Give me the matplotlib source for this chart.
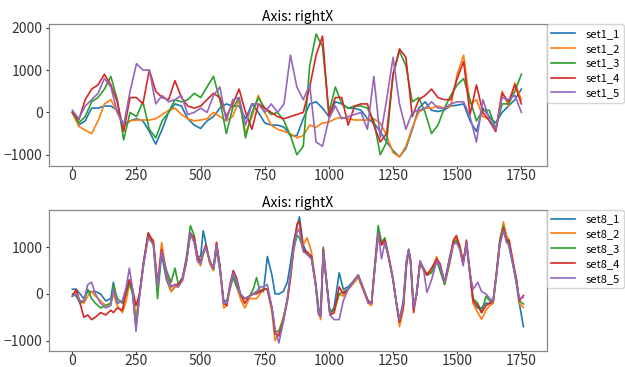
import matplotlib
matplotlib.use("Agg")
import matplotlib.pyplot as plt

plt.rcParams['font.family'] = ['Noto Sans CJK JP', 'DejaVu Sans']
plt.rcParams['axes.unicode_minus'] = True

# ---------------- top panel (set1) ----------------
x1 = list(range(0, 1751, 25))

set1_1 = [0, -300, -200, 100, 100, 150, 150, 50, -300, -200,
          -150, -200, -450, -750, -400, 0, 200, 150, -150, -300,
          -380, -200, -100, 100, 200, 150, 150, -150, 200, 0,
          -250, -300, -300, -350, -550, -550, -150, 200, 250, 100,
          -100, 250, 200, 100, 100, 50, -150, -250, -450, -700,
          -900, -1050, -850, -400, 100, 250, 50, 20, 60, 150,
          170, 200, -200, -450, 100, -100, -250, 0, 150, 300,
          550]
set1_2 = [0, -330, -420, -500, -200, 200, 300, 0, -330, -200,
          -180, -180, -180, -150, -50, 50, 100, -50, -150, -200,
          -180, -150, 0, -100, -200, -100, 300, -500, -100, 400,
          0, -300, -400, -450, -500, -600, -550, -300, -350, -250,
          -230, -150, -120, -150, -180, -180, -180, -150, -250, -550,
          -950, -1050, -800, -350, 0, 100, 100, 150, 100, 150,
          900, 1350, 200, 300, -100, -150, -450, 500, 150, 700,
          300]
set1_3 = [0, -250, -100, 250, 350, 550, 850, 300, -650, 0,
          -100, 250, -400, -600, -200, 0, 300, 250, 300, 450,
          350, 600, 850, 300, -500, 100, 350, -600, 0, 350,
          100, -50, 0, -200, -550, -1000, -800, 1100, 1850, 1550,
          0, 600, 200, 100, 150, 150, 100, -200, -1000, -700,
          900, 1450, 1100, 250, 350, 0, -500, -300, 100, 400,
          650, 800, 300, -200, 50, 50, -400, 200, 200, 500,
          900]
set1_4 = [0, -180, 300, 550, 650, 900, 650, 250, -450, 350,
          350, 200, 1000, 500, 350, 300, 750, 350, 150, 100,
          150, 300, 450, 350, -100, 200, 550, 0, -400, 200,
          100, 0, -100, -150, -100, -50, 0, 600, 1350, 1800,
          -100, 350, 350, -300, 150, 200, 200, -300, -700, -500,
          900, 1500, 1300, -100, 300, 400, 550, 350, 300, 300,
          800, 1200, -50, 650, 0, -200, -450, 450, 250, 650,
          200]
set1_5 = [50, -150, 150, 300, 450, 800, 600, 0, -300, 500,
          1150, 1000, 1000, 200, 400, 250, 300, 400, -50, 0,
          100, 0, 400, 600, -200, 300, 350, -300, 200, 200,
          0, 200, 0, 200, 1350, 600, 300, 650, -700, -800,
          -150, 150, -150, -100, -50, 0, -400, 850, -600, 300,
          1300, 200, -400, 0, 50, 100, 250, 100, 100, 200,
          250, 250, -100, -700, 300, -150, -400, 350, 300, 400,
          0]

# ---------------- bottom panel (set8) ----------------
x8 = [0, 15, 30, 45, 60, 75, 90, 110, 130, 150,
      160, 175, 195, 210, 222, 235, 248, 262, 278, 296,
      316, 332, 348, 367, 385, 400, 413, 430, 445, 460,
      475, 488, 500, 510, 520, 536, 550, 562, 575, 590,
      602, 614, 627, 640, 655, 672, 690, 705, 718, 732,
      745, 760, 778, 790, 805, 822, 838, 850, 862, 876,
      885, 900, 915, 932, 948, 960, 968, 978, 990, 1004,
      1020, 1040, 1056, 1075, 1100, 1114, 1135, 1153, 1166, 1180,
      1192, 1205, 1218, 1232, 1250, 1263, 1275, 1290, 1302, 1311,
      1318, 1330, 1342, 1355, 1368, 1382, 1400, 1420, 1433, 1451,
      1471, 1485, 1497, 1510, 1523, 1536, 1549, 1562, 1580, 1595,
      1612, 1627, 1640, 1653, 1666, 1680, 1692, 1702, 1718, 1731,
      1742, 1758]

set8_1 = [100, 100, 0, -100, 50, 50, 50, 0, -150, -100,
          250, -200, -150, 50, 300, 0, -700, 0, 650, 1300,
          1050, 200, 850, 300, 50, 150, 200, 350, 700, 1300,
          1100, 800, 800, 1350, 1100, 650, 500, 950, 500, -150,
          -150, 100, 350, 150, -50, -100, -50, 0, 50, 50,
          50, 800, 400, 0, 0, 50, 250, 650, 1100, 1450,
          1650, 1050, 850, 750, 250, -300, -450, 900, 250, -400,
          -300, 450, 100, 150, 300, 400, 100, -180, -200, 650,
          1300, 1050, 1100, 800, 300, -200, -550, -150, 700, 950,
          700, -300, 50, 650, 550, 400, 500, 700, 600, 250,
          800, 1100, 1150, 1000, 650, 1050, 450, -200, -300, -300,
          -200, -200, -200, 400, 1050, 1400, 1200, 1000, 600, 200,
          -200, -700]
set8_2 = [-50, 50, -150, -200, -50, 50, -50, -150, -250, -200,
          0, -250, -400, -150, 200, 50, -500, 0, 650, 1250,
          1150, 200, 1100, 400, 50, 150, 150, 300, 700, 1300,
          1150, 700, 600, 850, 1000, 650, 500, 1100, 550, -300,
          -250, 100, 400, 200, -100, -300, -100, -100, -100, 0,
          100, 100, -400, -1000, -800, -500, -150, 300, 900, 1350,
          1400, 1050, 1200, 900, 250, -400, -550, 850, 300, -450,
          -400, 0, -50, 100, 250, 350, 50, -200, -250, 600,
          1250, 1050, 1150, 850, 350, -200, -700, -350, 600, 900,
          750, -250, 0, 700, 500, 450, 500, 800, 550, 200,
          650, 1050, 1200, 1050, 700, 1050, 450, -200, -400, -540,
          -350, -250, -200, 400, 1150, 1540, 1250, 1150, 700, 300,
          -200, -290]
set8_3 = [0, -50, -200, -150, 100, -100, -200, -300, -250, -200,
          200, -100, -200, 0, 250, 0, -700, 0, 700, 1300,
          1050, -100, 900, 500, 250, 550, 200, 350, 800, 1460,
          1250, 750, 650, 850, 1000, 700, 550, 1000, 600, -200,
          -200, 150, 400, 200, 0, -100, -50, 100, 350, 50,
          100, 100, -300, -800, -800, -550, -100, 400, 950, 1250,
          1200, 950, 850, 800, 200, -400, -450, 1000, 300, -400,
          -350, 0, 50, 100, 300, 400, 100, -150, -200, 700,
          1460, 1100, 1200, 800, 300, -200, -600, -250, 600, 950,
          700, -300, 0, 650, 550, 400, 450, 700, 500, 200,
          700, 1100, 1150, 1000, 650, 1100, 500, -100, -200, -400,
          -50, -150, -150, 450, 1150, 1450, 1150, 1100, 650, 300,
          -150, -215]
set8_4 = [-50, 100, -200, -500, -450, -550, -500, -400, -450, -350,
          -400, -300, -350, 50, 300, 100, -250, 0, 700, 1300,
          1100, 200, 950, 450, 150, 200, 200, 350, 750, 1300,
          1200, 800, 700, 900, 1050, 700, 550, 1100, 600, -200,
          -250, 200, 500, 350, 0, -200, -50, 0, 0, 50,
          100, 100, -300, -850, -900, -600, -150, 350, 1000, 1500,
          1550, 950, 900, 800, 200, -450, -450, 950, 300, -450,
          -400, 150, 0, 100, 300, 400, 100, -150, -200, 650,
          1300, 1050, 1150, 800, 300, -200, -600, -250, 650, 950,
          700, -400, 0, 700, 550, 400, 550, 750, 650, 250,
          750, 1150, 1250, 1000, 650, 1150, 500, -150, -250, -400,
          -250, -200, -150, 450, 1100, 1400, 1150, 1150, 650, 300,
          -150, -35]
set8_5 = [-50, 0, -150, -150, 200, 250, 0, -200, -300, -250,
          100, -200, -150, 150, 550, 100, -800, -50, 650, 1200,
          1050, 150, 900, 450, 150, 200, 150, 300, 700, 1300,
          1100, 700, 650, 900, 1000, 700, 550, 1050, 550, -200,
          -200, 150, 450, 300, 0, -100, -50, 0, 50, 150,
          150, 200, -300, -750, -1050, -600, -100, 400, 950, 1350,
          1350, 900, 850, 750, 200, -400, -500, 900, 300, -450,
          -550, -550, -150, 100, 300, 400, 100, -200, -200, 600,
          1300, 750, 1100, 800, 300, -200, -550, -200, 700, 950,
          700, -300, 0, 700, 550, 30, 300, 700, 600, 250,
          750, 1050, 1100, 950, 600, 1100, 450, 100, 250, 50,
          0, -100, -150, 400, 1050, 1350, 1100, 1050, 600, 250,
          -100, -70]

top_labels = ["set1_1", "set1_2", "set1_3", "set1_4", "set1_5"]
bot_labels = ["set8_1", "set8_2", "set8_3", "set8_4", "set8_5"]
title_text = "Axis: rightX"

W, H = 625, 367
fig = plt.figure(figsize=(W / 100, H / 100), dpi=100)
ax1 = fig.add_axes([49 / W, 1 - 166 / H, (546.5 - 49) / W, (166 - 24.3) / H])
ax2 = fig.add_axes([49 / W, 1 - 351 / H, (546.5 - 49) / W, (351 - 210) / H])

for ys, lab in zip([set1_1, set1_2, set1_3, set1_4, set1_5], top_labels):
    ax1.plot(x1, ys, lw=1.2, label=lab)
for ys, lab in zip([set8_1, set8_2, set8_3, set8_4, set8_5], bot_labels):
    ax2.plot(x8, ys, lw=1.2, label=lab)

ax1.set_ylim(-1266, 2080)
ax2.set_ylim(-1221, 1794)
for ax in (ax1, ax2):
    ax.set_xlim(-91, 1848)
    ax.set_xticks([0, 250, 500, 750, 1000, 1250, 1500, 1750])
    ax.set_title(title_text, fontsize=10, pad=2)
    ax.tick_params(labelsize=10, colors='#333333', length=2.5, width=0.8)
    ax.tick_params(axis='x', pad=0)
    ax.tick_params(axis='y', pad=2)
    for sp in ax.spines.values():
        sp.set_color('#888888')
        sp.set_linewidth(0.9)
    ax.legend(loc='upper left', bbox_to_anchor=(1.0, 1.0), borderaxespad=0,
              fontsize=8, handlelength=2.2, handletextpad=0.9,
              labelspacing=0.44, frameon=True)
ax1.set_yticks([-1000, 0, 1000, 2000])
ax2.set_yticks([-1000, 0, 1000])

fig.savefig("out.png", dpi=100)
